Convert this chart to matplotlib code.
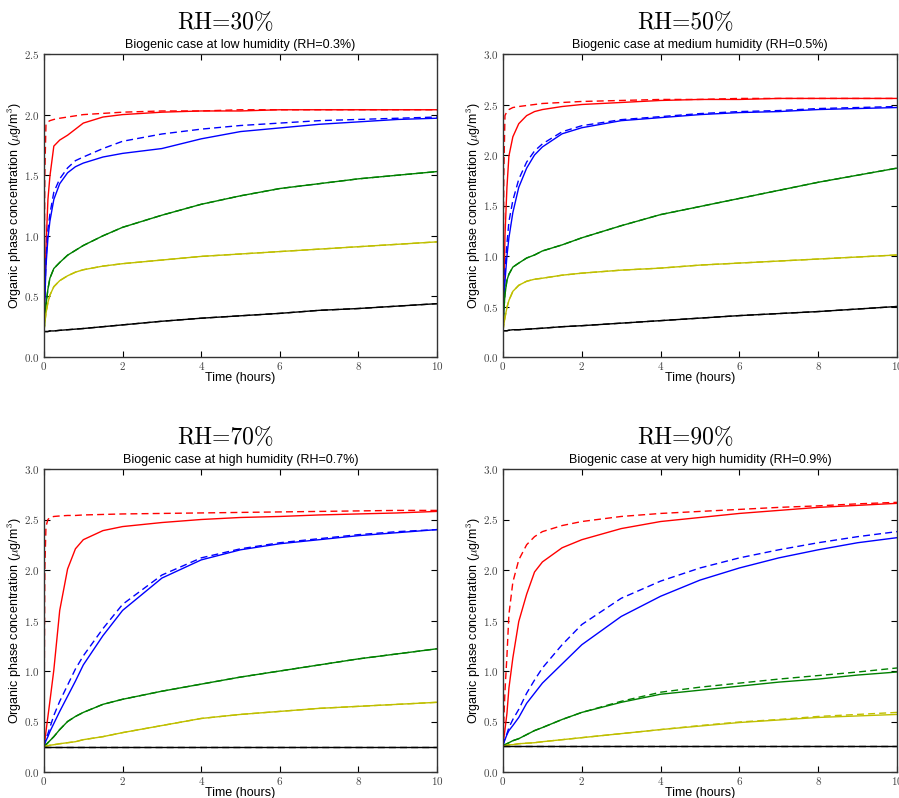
import matplotlib
matplotlib.use('Agg')
import matplotlib.pyplot as plt
from matplotlib.ticker import FuncFormatter, MultipleLocator

plt.rcParams['mathtext.fontset'] = 'cm'
plt.rcParams['font.family'] = ['Liberation Sans', 'DejaVu Sans']

# common output times (hours)
T = [0, 0.02, 0.05, 0.1, 0.15, 0.25, 0.4, 0.6, 0.8, 1.0, 1.5, 2, 3, 4, 5, 6, 7, 8, 9, 10]

# ---- RH = 30% ---------------------------------------------------------------
rh30_red = [0.21, 0.50, 0.90, 1.30, 1.49, 1.74, 1.79, 1.83, 1.88, 1.93, 1.98, 2.00, 2.02, 2.03, 2.03, 2.04, 2.04, 2.04, 2.04, 2.04]
rh30_red_d = [0.21, 1.50, 1.92, 1.94, 1.95, 1.96, 1.97, 1.98, 1.99, 2.00, 2.01, 2.02, 2.03, 2.03, 2.04, 2.04, 2.04, 2.04, 2.04, 2.04]
rh30_blue = [0.21, 0.45, 0.75, 0.98, 1.12, 1.30, 1.43, 1.52, 1.57, 1.60, 1.65, 1.68, 1.72, 1.80, 1.86, 1.89, 1.92, 1.94, 1.96, 1.97]
rh30_blue_d = [0.21, 0.50, 0.80, 1.05, 1.18, 1.36, 1.47, 1.56, 1.62, 1.65, 1.72, 1.78, 1.84, 1.88, 1.91, 1.93, 1.95, 1.96, 1.97, 1.98]
rh30_green = [0.21, 0.30, 0.43, 0.56, 0.65, 0.73, 0.78, 0.84, 0.88, 0.92, 1.00, 1.07, 1.17, 1.26, 1.33, 1.39, 1.43, 1.47, 1.50, 1.53]
rh30_green_d = rh30_green
rh30_yellow = [0.21, 0.28, 0.36, 0.45, 0.51, 0.58, 0.63, 0.67, 0.70, 0.72, 0.75, 0.77, 0.80, 0.83, 0.85, 0.87, 0.89, 0.91, 0.93, 0.95]
rh30_yellow_d = rh30_yellow
rh30_black = [0.21, 0.21, 0.21, 0.21, 0.215, 0.215, 0.22, 0.225, 0.23, 0.235, 0.25, 0.265, 0.295, 0.32, 0.34, 0.36, 0.385, 0.40, 0.42, 0.44]
rh30_black_d = rh30_black

# ---- RH = 50% ---------------------------------------------------------------
rh50_red = [0.26, 0.60, 1.20, 1.68, 1.99, 2.18, 2.31, 2.39, 2.43, 2.45, 2.48, 2.50, 2.52, 2.54, 2.55, 2.55, 2.56, 2.56, 2.56, 2.56]
rh50_red_d = [0.26, 1.80, 2.39, 2.43, 2.45, 2.47, 2.48, 2.49, 2.50, 2.51, 2.52, 2.53, 2.54, 2.55, 2.55, 2.56, 2.56, 2.56, 2.56, 2.56]
rh50_blue = [0.26, 0.50, 0.75, 1.00, 1.18, 1.43, 1.68, 1.87, 2.00, 2.08, 2.21, 2.27, 2.34, 2.37, 2.40, 2.42, 2.43, 2.45, 2.46, 2.47]
rh50_blue_d = [0.26, 0.55, 0.85, 1.12, 1.34, 1.55, 1.76, 1.93, 2.04, 2.11, 2.23, 2.29, 2.35, 2.38, 2.41, 2.43, 2.44, 2.46, 2.47, 2.48]
rh50_green = [0.26, 0.45, 0.62, 0.76, 0.82, 0.89, 0.93, 0.98, 1.01, 1.05, 1.11, 1.18, 1.30, 1.41, 1.49, 1.57, 1.65, 1.73, 1.80, 1.87]
rh50_green_d = rh50_green
rh50_yellow = [0.26, 0.32, 0.39, 0.49, 0.56, 0.65, 0.71, 0.75, 0.77, 0.78, 0.81, 0.83, 0.86, 0.88, 0.91, 0.93, 0.95, 0.97, 0.99, 1.01]
rh50_yellow_d = rh50_yellow
rh50_black = [0.26, 0.26, 0.26, 0.26, 0.265, 0.27, 0.27, 0.275, 0.28, 0.285, 0.30, 0.31, 0.335, 0.36, 0.385, 0.41, 0.43, 0.45, 0.475, 0.50]
rh50_black_d = rh50_black

# ---- RH = 70% ---------------------------------------------------------------
rh70_red = [0.25, 0.30, 0.40, 0.55, 0.70, 1.01, 1.60, 2.01, 2.21, 2.30, 2.39, 2.43, 2.47, 2.50, 2.52, 2.53, 2.545, 2.555, 2.565, 2.58]
rh70_red_d = [0.25, 2.00, 2.43, 2.50, 2.52, 2.53, 2.535, 2.54, 2.54, 2.545, 2.55, 2.555, 2.56, 2.565, 2.57, 2.575, 2.58, 2.585, 2.59, 2.59]
rh70_blue = [0.25, 0.28, 0.31, 0.35, 0.40, 0.48, 0.60, 0.75, 0.90, 1.06, 1.35, 1.60, 1.92, 2.10, 2.20, 2.26, 2.30, 2.34, 2.37, 2.40]
rh70_blue_d = [0.25, 0.29, 0.33, 0.38, 0.44, 0.56, 0.70, 0.86, 1.02, 1.15, 1.42, 1.66, 1.95, 2.12, 2.21, 2.27, 2.31, 2.35, 2.38, 2.40]
rh70_green = [0.25, 0.26, 0.27, 0.29, 0.31, 0.35, 0.42, 0.50, 0.55, 0.59, 0.67, 0.72, 0.80, 0.87, 0.94, 1.00, 1.06, 1.12, 1.17, 1.22]
rh70_green_d = rh70_green
rh70_yellow = [0.25, 0.25, 0.255, 0.26, 0.265, 0.27, 0.28, 0.29, 0.30, 0.32, 0.35, 0.39, 0.46, 0.53, 0.57, 0.60, 0.63, 0.65, 0.67, 0.69]
rh70_yellow_d = rh70_yellow
rh70_black = [0.25] * len(T)
rh70_black_d = rh70_black

# ---- RH = 90% ---------------------------------------------------------------
rh90_red = [0.26, 0.33, 0.42, 0.58, 0.83, 1.13, 1.49, 1.76, 1.98, 2.08, 2.22, 2.30, 2.41, 2.48, 2.52, 2.56, 2.59, 2.62, 2.64, 2.66]
rh90_red_d = [0.26, 0.50, 0.80, 1.15, 1.56, 1.88, 2.10, 2.25, 2.33, 2.38, 2.44, 2.48, 2.53, 2.56, 2.58, 2.60, 2.62, 2.635, 2.655, 2.67]
rh90_blue = [0.26, 0.29, 0.32, 0.37, 0.41, 0.46, 0.54, 0.68, 0.78, 0.88, 1.07, 1.26, 1.54, 1.74, 1.90, 2.02, 2.12, 2.20, 2.27, 2.32]
rh90_blue_d = [0.26, 0.29, 0.33, 0.38, 0.44, 0.52, 0.62, 0.78, 0.91, 1.03, 1.26, 1.46, 1.72, 1.89, 2.02, 2.12, 2.20, 2.27, 2.33, 2.38]
rh90_green = [0.26, 0.265, 0.27, 0.28, 0.29, 0.31, 0.33, 0.37, 0.41, 0.44, 0.52, 0.59, 0.69, 0.77, 0.81, 0.85, 0.89, 0.92, 0.96, 0.99]
rh90_green_d = [0.26, 0.265, 0.27, 0.28, 0.29, 0.31, 0.33, 0.37, 0.41, 0.44, 0.52, 0.59, 0.70, 0.79, 0.84, 0.88, 0.92, 0.955, 0.99, 1.03]
rh90_yellow = [0.26, 0.26, 0.26, 0.265, 0.27, 0.27, 0.28, 0.285, 0.29, 0.30, 0.32, 0.34, 0.38, 0.42, 0.455, 0.49, 0.515, 0.54, 0.555, 0.57]
rh90_yellow_d = [0.26, 0.26, 0.26, 0.265, 0.27, 0.27, 0.28, 0.285, 0.29, 0.30, 0.32, 0.34, 0.38, 0.42, 0.46, 0.495, 0.52, 0.55, 0.57, 0.59]
rh90_black = [0.26] * len(T)
rh90_black_d = rh90_black

PANELS = [
    ('RH=30%', 'Biogenic case at low humidity (RH=0.3%)', 2.5,
     [('r', rh30_red, rh30_red_d), ('b', rh30_blue, rh30_blue_d), ('g', rh30_green, rh30_green_d),
      ('y', rh30_yellow, rh30_yellow_d), ('k', rh30_black, rh30_black_d)]),
    ('RH=50%', 'Biogenic case at medium humidity (RH=0.5%)', 3.0,
     [('r', rh50_red, rh50_red_d), ('b', rh50_blue, rh50_blue_d), ('g', rh50_green, rh50_green_d),
      ('y', rh50_yellow, rh50_yellow_d), ('k', rh50_black, rh50_black_d)]),
    ('RH=70%', 'Biogenic case at high humidity (RH=0.7%)', 3.0,
     [('r', rh70_red, rh70_red_d), ('b', rh70_blue, rh70_blue_d), ('g', rh70_green, rh70_green_d),
      ('y', rh70_yellow, rh70_yellow_d), ('k', rh70_black, rh70_black_d)]),
    ('RH=90%', 'Biogenic case at very high humidity (RH=0.9%)', 3.0,
     [('r', rh90_red, rh90_red_d), ('b', rh90_blue, rh90_blue_d), ('g', rh90_green, rh90_green_d),
      ('y', rh90_yellow, rh90_yellow_d), ('k', rh90_black, rh90_black_d)]),
]

COLORS = {'r': '#ff0000', 'b': '#0000ff', 'g': '#008000', 'y': '#bfbf00', 'k': '#000000'}

W, H = 899, 798
# axes boxes in pixels: left, top, right, bottom
BOXES = [(44, 54, 437, 357), (503, 54, 897, 357), (44, 469, 437, 772), (503, 469, 897, 772)]

fig = plt.figure(figsize=(W / 100, H / 100), dpi=100)
for (big, small, ymax, series), (l, t, r, b) in zip(PANELS, BOXES):
    ax = fig.add_axes([l / W, 1 - b / H, (r - l) / W, (b - t) / H])
    for c, solid, dashed in series:
        ax.plot(T, dashed, '--', color=COLORS[c], lw=1.0, dashes=(5, 3))
        ax.plot(T, solid, '-', color=COLORS[c], lw=1.0)
    ax.set_xlim(0, 10)
    ax.set_ylim(0, ymax)
    ax.xaxis.set_major_locator(MultipleLocator(2))
    ax.yaxis.set_major_locator(MultipleLocator(0.5))
    ax.xaxis.set_major_formatter(FuncFormatter(lambda v, p: r'$%d$' % v))
    ax.yaxis.set_major_formatter(FuncFormatter(lambda v, p: r'$%.1f$' % v))
    ax.tick_params(direction='in', top=True, right=True, length=4, width=0.8,
                   labelsize=8, labelcolor='#444444')
    ax.tick_params(axis='x', pad=2)
    ax.tick_params(axis='y', pad=3)
    for s in ax.spines.values():
        s.set_linewidth(1.0)
        s.set_color('#333333')
    ax.set_xlabel('Time (hours)', fontsize=9, labelpad=0)
    ax.set_ylabel(r'Organic phase concentration ($\mu$g/m$^3$)', fontsize=9)
    ax.yaxis.set_label_coords(-20 / (r - l), 0.5)
    ax.set_title(small, fontsize=9, pad=4)
    # big panel heading: baseline ~25 px above the frame, sitting ~15 px left of centre
    ax.text(0.5 - 15 / (r - l), 1.0 + 25 / (b - t), big, transform=ax.transAxes,
            ha='center', va='baseline', fontsize=17, family='cmr10')

fig.savefig('out.png', dpi=100)
